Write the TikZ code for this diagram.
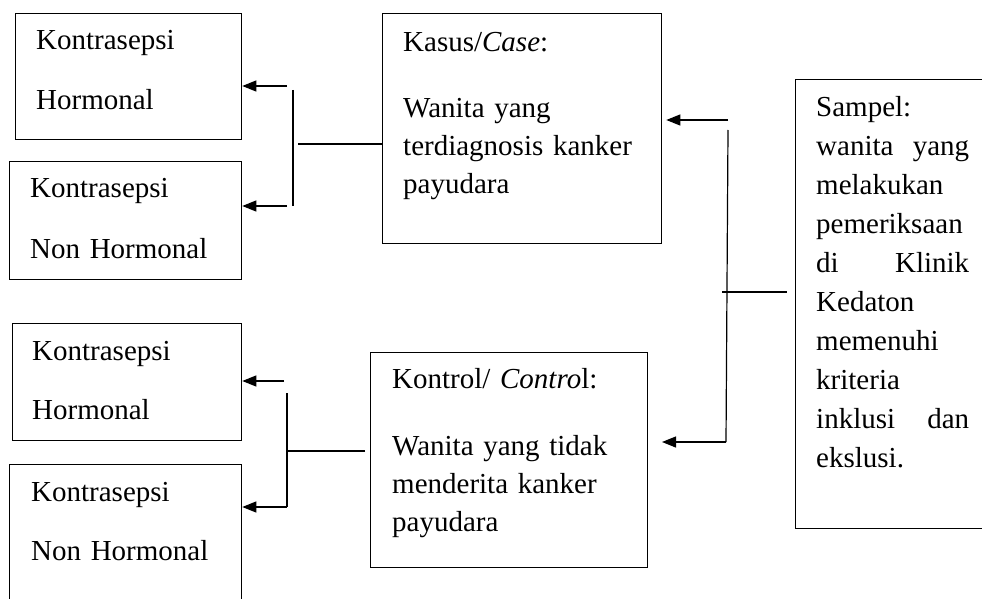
\documentclass[tikz,border=0pt]{standalone}
\usepackage{fontspec}
\setmainfont{Liberation Serif}
\usetikzlibrary{arrows.meta}
\newcommand{\jline}[2]{\makebox[153pt][l]{#1\hfill #2}}
\begin{document}
\begin{tikzpicture}[x=1pt,y=-1pt,
  box/.style={draw, line width=1.3pt, rectangle, anchor=north west, inner sep=0pt},
  txt/.style={anchor=base west, inner sep=0pt, text width=#1, align=left,
              font=\fontsize{29}{38}\selectfont},
  ln/.style={line width=1.2pt},
  arr/.style={line width=1.2pt, -{Triangle[length=14pt,width=11pt]}}]
\useasboundingbox (0,0) rectangle (982,599);
\clip (0,0) rectangle (982,599);

% boxes
\node[box, minimum width=226pt, minimum height=126pt] (hA) at (15,13) {};
\node[box, minimum width=232pt, minimum height=118pt] (hB) at (9,161) {};
\node[box, minimum width=229pt, minimum height=117pt] (hC) at (12,323) {};
\node[box, minimum width=232pt, minimum height=170pt] (hD) at (9,464) {};
\node[box, minimum width=279pt, minimum height=230pt] (kasus) at (382,13) {};
\node[box, minimum width=277pt, minimum height=215pt] (kontrol) at (370,352) {};
\node[box, minimum width=210pt, minimum height=449pt] (sampel) at (795,79) {};

% texts
\node[txt=200pt] (tA) at (36,50) {Kontrasepsi\\[22pt]Hormonal};
\node[txt=210pt] (tB) at (30,197) {Kontrasepsi\\[23pt]Non Hormonal};
\node[txt=205pt] (tC) at (32,360) {Kontrasepsi\\[21pt]Hormonal};
\node[txt=210pt] (tD) at (31,501) {Kontrasepsi\\[21pt]Non Hormonal};
\node[txt=250pt] (tK) at (403,52) {Kasus/\textit{Case}:\\[28pt]Wanita yang\\terdiagnosis kanker\\payudara};
\node[txt=250pt] (tL) at (392,388) {Kontrol/ \textit{Contro}l:\\[29pt]Wanita yang tidak\\menderita kanker\\payudara};
\node[txt=160pt, font=\fontsize{29}{38.9}\selectfont] (tS) at (816,117) {Sampel:\\
  \jline{wanita}{yang}\\
  melakukan\\
  pemeriksaan\\
  \jline{di}{Klinik}\\
  Kedaton\\
  memenuhi\\
  kriteria\\
  \jline{inklusi}{dan}\\
  ekslusi.};

% upper split
\coordinate (u1) at (298,144);
\coordinate (uT) at (293,90);
\coordinate (uB) at (293,206);
\coordinate (ua) at (287,86);
\coordinate (ub) at (287,206);
\draw[ln] (kasus.west |- u1) -- (u1);
\draw[ln] (uT) -- (uB);
\draw[arr] (ua) -- (hA.east |- ua);
\draw[arr] (ub) -- (hB.east |- ub);

% lower split
\coordinate (l1) at (365,451);
\coordinate (lT) at (287,393);
\coordinate (lB) at (287,507);
\coordinate (la) at (284,381);
\draw[ln] (l1) -- (lT |- l1);
\draw[ln] (lT) -- (lB);
\draw[arr] (la) -- (hC.east |- la);
\draw[arr] (lB) -- (hD.east |- lB);

% right split
\coordinate (r1) at (787,292);
\coordinate (r0) at (722,292);
\coordinate (rT) at (728,130);
\coordinate (ra) at (728,120);
\coordinate (rB) at (726,442);
\coordinate (rtip) at (662,442);
\draw[ln] (r0) -- (r1);
\draw[arr] (ra) -- ([xshift=4pt]kasus.east |- ra);
\draw[ln] (rT) -- (rB);
\draw[arr] (rB) -- (rtip);
\end{tikzpicture}
\end{document}
